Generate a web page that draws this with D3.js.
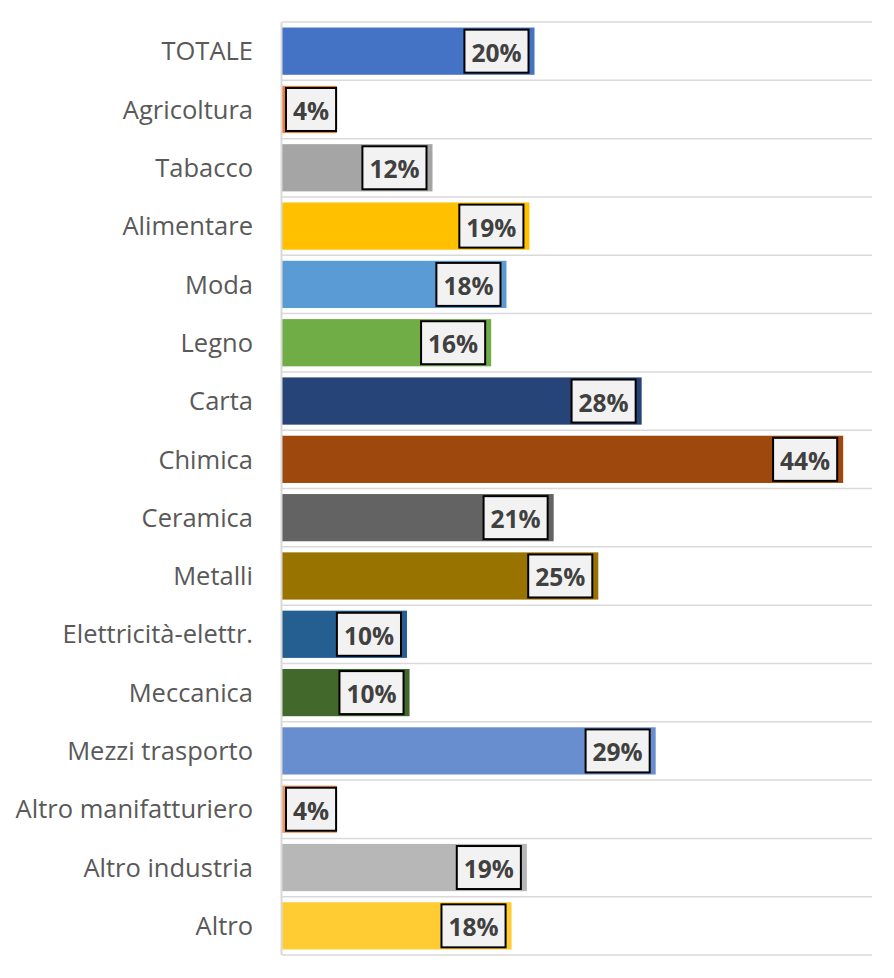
<!DOCTYPE html>
<html>
<head>
<meta charset="utf-8">
<script src="https://cdn.jsdelivr.net/npm/d3@7"></script>
<style>
  body { margin: 0; background: #fff; }
</style>
</head>
<body>
<div class="canvas"></div>
<script>
// categories, values and bar colours
const categories = ["TOTALE", "Agricoltura", "Tabacco", "Alimentare", "Moda", "Legno", "Carta", "Chimica",
    "Ceramica", "Metalli", "Elettricità-elettr.", "Meccanica", "Mezzi trasporto", "Altro manifatturiero",
    "Altro industria", "Altro"]
const values = [0.198, 0.043, 0.118, 0.194, 0.176, 0.164, 0.282, 0.440,
    0.213, 0.248, 0.098, 0.100, 0.293, 0.043, 0.192, 0.180]
const colors = ["#4472C4", "#ED7D31", "#A5A5A5", "#FFC000", "#5B9BD5", "#70AD47", "#264478", "#9E480E",
    "#636363", "#997300", "#255E91", "#43682B", "#698ED0", "#F1975A", "#B7B7B7", "#FFCD33"]

const data = categories.map((c, i) => ({name: c, value: values[i], color: colors[i]}))

/**
 * Graph dimensions
 */
const width = 894, height = 978
const margin = {top: 22, right: 22, bottom: 23, left: 282}
const graphWidth = width - margin.left - margin.right
const graphHeight = height - margin.top - margin.bottom

const svg = d3.select(".canvas")
    .append("svg")
    .attr("width", width)
    .attr("height", height)

const graph = svg.append("g")
    .attr("transform", `translate(${margin.left},${margin.top})`)

// scales
const x = d3.scaleLinear().domain([0, 0.4626]).range([0, graphWidth])
const y = d3.scaleBand().domain(categories).range([0, graphHeight]).paddingInner(0.19).paddingOuter(0.095)

// horizontal gridlines between categories
graph.selectAll("line.grid")
    .data(d3.range(categories.length + 1))
    .enter().append("line")
    .attr("class", "grid")
    .attr("x1", 0)
    .attr("x2", graphWidth)
    .attr("y1", i => i * graphHeight / categories.length)
    .attr("y2", i => i * graphHeight / categories.length)
    .attr("stroke", "#d9d9d9")
    .attr("stroke-width", 1.5)

// bars
graph.selectAll("rect.bar")
    .data(data)
    .enter().append("rect")
    .attr("class", "bar")
    .attr("x", 0)
    .attr("y", d => y(d.name))
    .attr("width", d => x(d.value))
    .attr("height", y.bandwidth())
    .attr("fill", d => d.color)

// vertical axis line + category labels
const yAxis = d3.axisLeft(y).tickSize(0).tickPadding(29)
const yAxisGroup = graph.append("g").call(yAxis)
yAxisGroup.select(".domain")
    .attr("stroke", "#d9d9d9")
    .attr("stroke-width", 2)
    .attr("d", `M-0.5,0V${graphHeight}`)
yAxisGroup.selectAll("text")
    .attr("fill", "#595959")
    .attr("dy", "0.36em")
    .style("font-family", "'Open Sans', sans-serif")
    .style("font-size", "25.5px")

// data labels, boxed, at the inside end of each bar
const fmt = d3.format(".0%")
const labels = graph.selectAll("g.label")
    .data(data)
    .enter().append("g")
    .attr("class", "label")

labels.append("text")
    .text(d => fmt(d.value))
    .attr("fill", "#404040")
    .attr("font-weight", "bold")
    .style("font-family", "'Open Sans', sans-serif")
    .style("font-size", "24.5px")
    .attr("dominant-baseline", "central")
    .attr("text-anchor", "middle")

labels.each(function(d) {
    const g = d3.select(this)
    const tw = g.select("text").node().getComputedTextLength()
    const bw = tw + 14, bh = 43
    let left = x(d.value) - 6 - bw
    if (left < 4) left = 4
    const cy = y(d.name) + y.bandwidth() / 2
    g.insert("rect", "text")
        .attr("x", left)
        .attr("y", cy - bh / 2)
        .attr("width", bw)
        .attr("height", bh)
        .attr("fill", "#f2f2f2")
        .attr("stroke", "#000")
        .attr("stroke-width", 2)
    g.select("text")
        .attr("x", left + bw / 2)
        .attr("y", cy + 1)
})
</script>
</body>
</html>
